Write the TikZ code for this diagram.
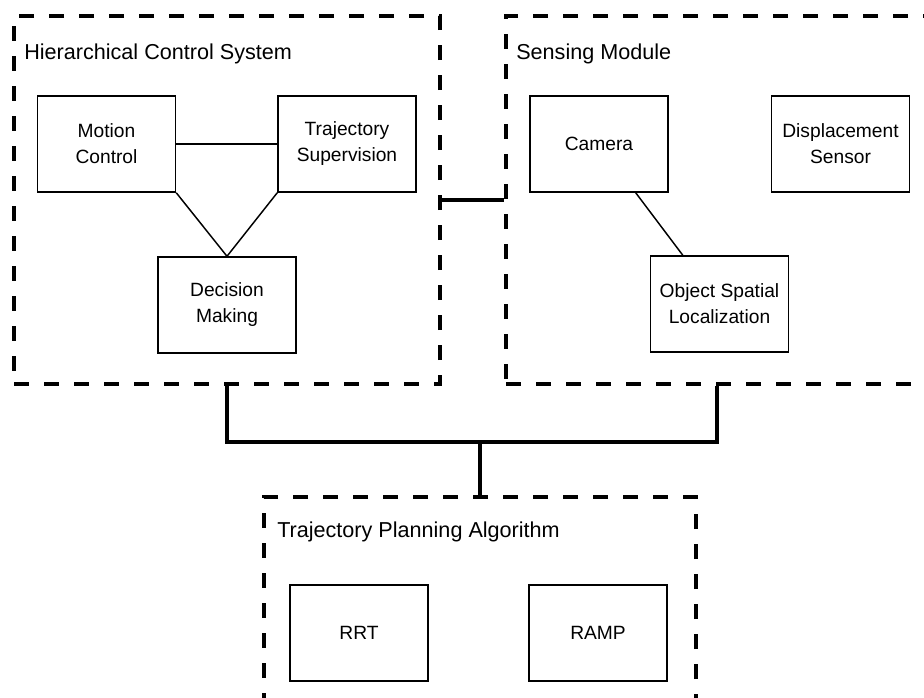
\documentclass[tikz,border=0pt]{standalone}
\usepackage{fontspec}
\setmainfont{Liberation Sans}
\begin{document}
\begin{tikzpicture}[x=0.75pt,y=-0.75pt,
  container/.style={draw, line width=2.4pt, dash pattern=on 11.25pt off 11.25pt, inner sep=0pt},
  box/.style={draw, line width=1.1pt, fill=white, minimum width=103.5pt, minimum height=72pt, inner sep=0pt, align=center, font=\fontsize{14.4pt}{19.5pt}\selectfont},
  title/.style={anchor=base west, inner sep=0pt, font=\fontsize{16.2pt}{19pt}\selectfont},
  link/.style={line width=2.4pt},
  thinlink/.style={line width=1.1pt}]
\useasboundingbox (0,0) rectangle (924,697);
\clip (0,0) rectangle (924,697);
\fill[white] (0,0) rectangle (924,697);
% containers
\node[container, minimum width=319.5pt, minimum height=276pt] (hcs) at (227,200) {};
\node[container, minimum width=316.5pt, minimum height=276pt] (sm) at (717,200) {};
\node[container, minimum width=324pt, minimum height=172.5pt] (tpa) at (480,612) {};
% titles
\node[title] (hcsl) at (24,59) {Hierarchical Control System};
\node[title] (sml) at (516,59) {Sensing Module};
\node[title] (tpal) at (277,537) {Trajectory Planning Algorithm};
% container links
\coordinate (j) at (480,442);
\draw[link] (hcs.east) -- (sm.west);
\draw[link] (hcs.south) |- (j) -| (sm.south);
\draw[link] (tpa.north) -- (j);
% boxes
\node[box] (mc) at (106.5,144) {Motion\\Control};
\node[box] (ts) at (347,144) {Trajectory\\Supervision};
\node[box] (dm) at (227,305) {Decision\\Making};
\node[box] (cam) at (599,144) {Camera};
\node[box] (ds) at (840.5,144) {Displacement\\Sensor};
\node[box] (osl) at (719.5,304) {Object Spatial\\Localization};
\node[box] (rrt) at (359,633) {RRT};
\node[box] (ramp) at (598,633) {RAMP};
% box links
\draw[thinlink] (mc.east) -- (ts.west);
\draw[thinlink] (mc.south east) -- (dm.north);
\draw[thinlink] (ts.south west) -- (dm.north);
\draw[thinlink] (cam) -- (osl);
\end{tikzpicture}
\end{document}
